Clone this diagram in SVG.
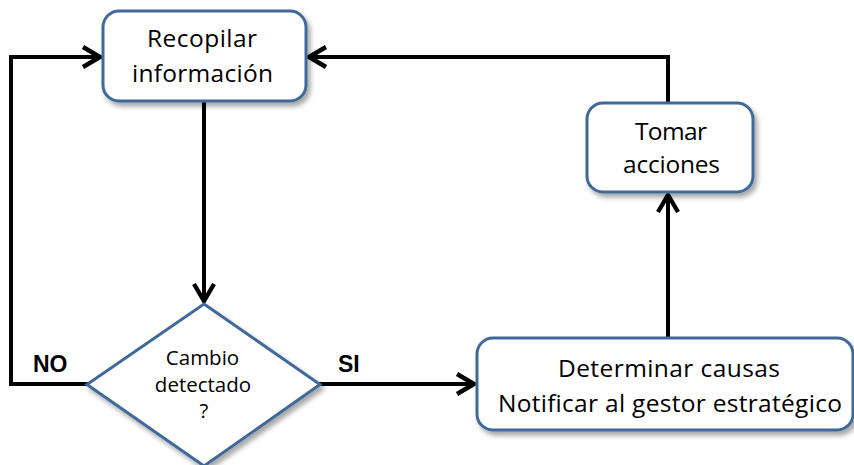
<svg xmlns="http://www.w3.org/2000/svg" width="854" height="465" viewBox="0 0 854 465">
  <style>
    .box { fill: #ffffff; stroke: #41699a; stroke-width: 3; }
    .lbl { font-family: "Open Sans", "Liberation Sans", Arial, sans-serif; fill: #000000; text-anchor: middle; font-size: 24.5px; }
    .small { font-size: 20.5px; }
    .wire { fill: none; stroke: #000000; stroke-width: 4; }
    .tag { font-family: "Liberation Sans", Arial, sans-serif; font-weight: bold; font-size: 23px; fill: #000000; }
  </style>
  <defs>
    <filter id="shadow" x="-10%" y="-10%" width="125%" height="130%">
      <feDropShadow dx="3" dy="4" stdDeviation="2.5" flood-color="#000000" flood-opacity="0.35"/>
    </filter>
    <marker id="arrow" viewBox="0 0 12 12" refX="10.5" refY="6" markerWidth="6" markerHeight="6" markerUnits="strokeWidth" orient="auto">
      <path d="M1.5,1 L10,6 L1.5,11" fill="none" stroke="#000000" stroke-width="2.2" stroke-linejoin="miter"/>
    </marker>
  </defs>

  <rect width="854" height="465" fill="#ffffff"/>

  <!-- connectors -->
  <g id="connectors">
    <path class="wire" d="M204,102 V302" marker-end="url(#arrow)"/>
    <path class="wire" d="M88,384 H11 V57 H101" marker-end="url(#arrow)"/>
    <path class="wire" d="M319,384 H475" marker-end="url(#arrow)"/>
    <path class="wire" d="M668,338 V194" marker-end="url(#arrow)"/>
    <path class="wire" d="M668,103 V57 H308" marker-end="url(#arrow)"/>
    <text class="tag" x="33" y="372">NO</text>
    <text class="tag" x="338" y="372">SI</text>
  </g>

  <g id="recopilar">
    <rect class="box" x="103" y="11" width="203" height="90" rx="16" filter="url(#shadow)"/>
    <text class="lbl" x="202" y="47" textLength="110">Recopilar</text>
    <text class="lbl" x="202.5" y="82" textLength="141">información</text>
  </g>

  <g id="cambio">
    <polygon class="box" points="204,304 320,384.5 204,466 87,384.5" filter="url(#shadow)"/>
    <text class="lbl small" x="202.5" y="365">Cambio</text>
    <text class="lbl small" x="203" y="392">detectado</text>
    <text class="lbl small" x="204" y="418">?</text>
  </g>

  <g id="determinar">
    <rect class="box" x="477" y="338" width="376" height="92" rx="16" filter="url(#shadow)"/>
    <text class="lbl" x="669" y="377" textLength="222">Determinar causas</text>
    <text class="lbl" x="670" y="412" textLength="344">Notificar al gestor estratégico</text>
  </g>

  <g id="tomar">
    <rect class="box" x="587" y="103" width="166" height="89" rx="16" filter="url(#shadow)"/>
    <text class="lbl" x="671" y="140" textLength="72">Tomar</text>
    <text class="lbl" x="671.5" y="173" textLength="97">acciones</text>
  </g>
</svg>
